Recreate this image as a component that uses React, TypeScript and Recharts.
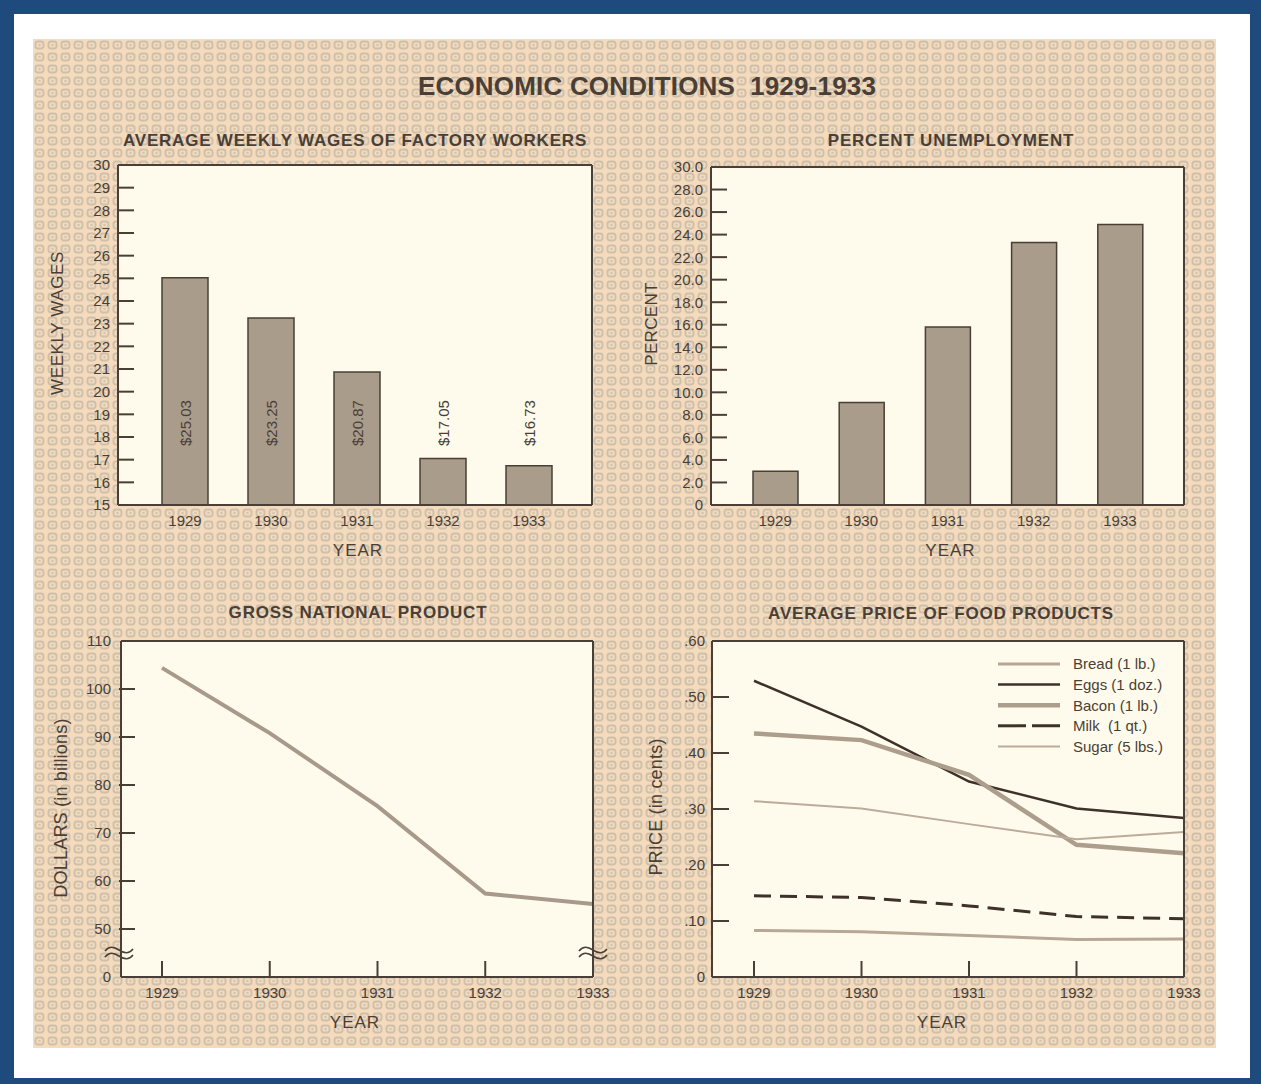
import React from 'react';
import {
  BarChart,
  Bar,
  LineChart,
  Line,
  XAxis,
  YAxis,
  CartesianGrid,
  LabelList,
  Label,
  Legend,
} from 'recharts';

// values
const years = ['1929', '1930', '1931', '1932', '1933'];

const weeklyWages = [25.03, 23.25, 20.87, 17.05, 16.73];
const wageLabels = ['$25.03', '$23.25', '$20.87', '$17.05', '$16.73'];
const wageTicks = [15, 16, 17, 18, 19, 20, 21, 22, 23, 24, 25, 26, 27, 28, 29, 30];

const unemploymentPct = [3.0, 9.1, 15.8, 23.3, 24.9];
const unemploymentTicks = [0, 2, 4, 6, 8, 10, 12, 14, 16, 18, 20, 22, 24, 26, 28, 30];

const gnpBillions = [104.4, 90.8, 75.6, 57.4, 55.2];
// 40 is printed as "0" (broken axis), 45 carries the break mark
const gnpTicks = [40, 45, 50, 60, 70, 80, 90, 100, 110];

const breadPrice = [0.083, 0.081, 0.074, 0.067, 0.068];
const eggsPrice = [0.529, 0.447, 0.349, 0.301, 0.284];
const baconPrice = [0.435, 0.423, 0.361, 0.236, 0.221];
const milkPrice = [0.145, 0.142, 0.127, 0.108, 0.104];
const sugarPrice = [0.314, 0.301, 0.273, 0.246, 0.259];
const foodTicks = [0, 0.1, 0.2, 0.3, 0.4, 0.5, 0.6];

const BLUE = '#1f4a7e';
const INK = '#4a3f36';
const FONT = '"Liberation Sans", Arial, Helvetica, sans-serif';
const PLOT_BG = '#fffbec';
const BAR_FILL = '#aa9c8b';
const TICK_GAP = 8;
const TICK_LEN = 16;
const X_GAP = 10;

const boxLine = { stroke: INK, strokeWidth: 2 };

const textureSvg =
  "<svg xmlns='http://www.w3.org/2000/svg' width='13' height='12'>" +
  "<rect width='13' height='12' fill='#f5dabb'/>" +
  "<rect x='2.5' y='2.5' width='8' height='7' rx='2.5' fill='none' stroke='#cdc0ad' stroke-width='1.9'/>" +
  "<circle cx='6.5' cy='6' r='1.3' fill='#d3c6b3'/></svg>";
const TEXTURE = `url("data:image/svg+xml;utf8,${encodeURIComponent(textureSvg)}")`;

const wageData = years.map((year, i) => ({ year, wage: weeklyWages[i], label: wageLabels[i] }));
const unemploymentData = years.map((year, i) => ({ year, pct: unemploymentPct[i] }));
const gnpData = years.map((year, i) => ({ year, gnp: gnpBillions[i] }));
const foodData = years.map((year, i) => ({
  year,
  bread: breadPrice[i],
  eggs: eggsPrice[i],
  bacon: baconPrice[i],
  milk: milkPrice[i],
  sugar: sugarPrice[i],
}));

const foodSeries = [
  { key: 'bread', name: 'Bread (1 lb.)', color: '#b7a797', width: 3, dash: undefined, legendDash: undefined },
  { key: 'eggs', name: 'Eggs (1 doz.)', color: '#3d3129', width: 2.5, dash: undefined, legendDash: undefined },
  { key: 'bacon', name: 'Bacon (1 lb.)', color: '#ad9d8c', width: 4.5, dash: undefined, legendDash: undefined },
  { key: 'milk', name: 'Milk  (1 qt.)', color: '#3d3129', width: 3, dash: '17 9', legendDash: '28 6' },
  { key: 'sugar', name: 'Sugar (5 lbs.)', color: '#bcab9b', width: 2, dash: undefined, legendDash: undefined },
];

function Squiggle({ cx, cy }: { cx: number; cy: number }) {
  return (
    <g fill="none" stroke={INK} strokeWidth={1.6}>
      <path d={`M${cx - 14},${cy - 2} c4,-5 8,-5 14,-1 s10,4 14,-1`} />
      <path d={`M${cx - 14},${cy + 4} c4,-5 8,-5 14,-1 s10,4 14,-1`} />
    </g>
  );
}

// inward tick line, label outside on the left
const yTick = (format: (v: number) => string, noLine: number[], breakAt?: number) => (props: any) => {
  const { x, y, payload } = props;
  const edge = x + TICK_GAP;
  const v = payload.value;
  if (breakAt !== undefined && v === breakAt) return <Squiggle cx={edge} cy={y} />;
  return (
    <g>
      {!noLine.includes(v) && (
        <line x1={edge} x2={edge + TICK_LEN} y1={y} y2={y} stroke={INK} strokeWidth={2} />
      )}
      <text x={x} y={y} dy="0.36em" textAnchor="end" fill={INK} fontSize={15} fontFamily={FONT}>
        {format(v)}
      </text>
    </g>
  );
};

const xTick = (withLine: boolean) => (props: any) => {
  const { x, y, payload } = props;
  const base = y - X_GAP;
  return (
    <g>
      {withLine && <line x1={x} x2={x} y1={base} y2={base - TICK_LEN} stroke={INK} strokeWidth={2} />}
      <text x={x} y={y} dy="0.71em" textAnchor="middle" fill={INK} fontSize={15} fontFamily={FONT}>
        {payload.value}
      </text>
    </g>
  );
};

const yTitle = (text: string, dx: number, dy: number, size: number, spacing: number) => (props: any) => {
  const vb = props.viewBox || {};
  const cx = vb.x + vb.width - dx;
  const cy = vb.y + vb.height / 2 + dy;
  return (
    <text
      transform={`translate(${cx},${cy}) rotate(-90)`}
      textAnchor="middle"
      dominantBaseline="central"
      fill={INK}
      fontSize={size}
      letterSpacing={spacing}
      fontFamily={FONT}
    >
      {text}
    </text>
  );
};

const yearTitle = (dx: number) => (props: any) => {
  const vb = props.viewBox || {};
  return (
    <text
      x={vb.x + vb.width / 2 + dx}
      y={vb.y + 45}
      textAnchor="middle"
      dominantBaseline="central"
      fill={INK}
      fontSize={17}
      letterSpacing={1}
      fontFamily={FONT}
    >
      YEAR
    </text>
  );
};

const wageLabel = (p: any) => {
  const vb = p.viewBox || p;
  const cx = vb.x + vb.width / 2;
  const bottom = vb.y + vb.height;
  return (
    <text
      transform={`translate(${cx},${bottom - 59}) rotate(-90)`}
      dominantBaseline="central"
      fill={INK}
      fontSize={15}
      fontFamily={FONT}
    >
      {p.value}
    </text>
  );
};

function PanelTitle({ text, cx, cy, size = 17, spacing = 0.8 }: any) {
  return (
    <div
      style={{
        position: 'absolute',
        left: cx - 300,
        width: 600,
        top: cy - size * 0.49,
        fontSize: size,
        lineHeight: `${size}px`,
        letterSpacing: spacing,
        fontWeight: 'bold',
        textAlign: 'center',
        color: INK,
        fontFamily: FONT,
        whiteSpace: 'pre',
      }}
    >
      {text}
    </div>
  );
}

// top and right edges of the plot frame: axes 1px thick (a 0-size axis is not drawn)
const topFrame = (
  <XAxis xAxisId="top" orientation="top" dataKey="year" height={1} axisLine={boxLine} tick={false} tickLine={false} />
);
const rightFrame = (domain: [number, number]) => (
  <YAxis
    yAxisId="right"
    orientation="right"
    type="number"
    width={1}
    domain={domain}
    allowDataOverflow
    axisLine={boxLine}
    tick={false}
    tickLine={false}
  />
);

function WagesChart() {
  return (
    <div style={{ position: 'absolute', left: 40, top: 150 }}>
      <BarChart width={570} height={420} data={wageData} margin={{ top: 14, right: 17, bottom: 35, left: 18 }}>
        <CartesianGrid fill={PLOT_BG} horizontal={false} vertical={false} />
        <XAxis
          dataKey="year"
          height={30}
          padding={{ left: 24, right: 20 }}
          axisLine={boxLine}
          tickLine={false}
          tickSize={0}
          tickMargin={X_GAP}
          tick={xTick(false)}
        >
          <Label content={yearTitle(3)} />
        </XAxis>
        {topFrame}
        <YAxis
          type="number"
          width={60}
          domain={[15, 30]}
          ticks={wageTicks}
          interval={0}
          axisLine={boxLine}
          tickLine={false}
          tickSize={0}
          tickMargin={TICK_GAP}
          tick={yTick((v) => String(v), [15, 30])}
        >
          <Label content={yTitle('WEEKLY WAGES', 61, -12, 17, 0.6)} />
        </YAxis>
        {rightFrame([15, 30])}
        <Bar dataKey="wage" fill={BAR_FILL} stroke={INK} strokeWidth={1.5} barSize={46} isAnimationActive={false}>
          <LabelList dataKey="label" content={wageLabel} />
        </Bar>
      </BarChart>
    </div>
  );
}

function UnemploymentChart() {
  return (
    <div style={{ position: 'absolute', left: 630, top: 150 }}>
      <BarChart width={575} height={420} data={unemploymentData} margin={{ top: 16, right: 20, bottom: 35, left: 21 }}>
        <CartesianGrid fill={PLOT_BG} horizontal={false} vertical={false} />
        <XAxis
          dataKey="year"
          height={30}
          padding={{ left: 21, right: 21 }}
          axisLine={boxLine}
          tickLine={false}
          tickSize={0}
          tickMargin={X_GAP}
          tick={xTick(false)}
        >
          <Label content={yearTitle(3)} />
        </XAxis>
        {topFrame}
        <YAxis
          type="number"
          width={60}
          domain={[0, 30]}
          ticks={unemploymentTicks}
          interval={0}
          axisLine={boxLine}
          tickLine={false}
          tickSize={0}
          tickMargin={TICK_GAP}
          tick={yTick((v) => (v === 0 ? '0' : v.toFixed(1)), [0, 30])}
        >
          <Label content={yTitle('PERCENT', 60, -12, 17, 0.3)} />
        </YAxis>
        {rightFrame([0, 30])}
        <Bar dataKey="pct" fill={BAR_FILL} stroke={INK} strokeWidth={1.5} barSize={45} isAnimationActive={false} />
      </BarChart>
    </div>
  );
}

function GnpChart() {
  return (
    <div style={{ position: 'absolute', left: 40, top: 625 }}>
      <LineChart width={570} height={420} data={gnpData} margin={{ top: 15, right: 16, bottom: 38, left: 21 }}>
        <CartesianGrid fill={PLOT_BG} horizontal={false} vertical={false} />
        <XAxis
          dataKey="year"
          height={30}
          padding={{ left: 41, right: 0 }}
          axisLine={boxLine}
          tickLine={false}
          tickSize={0}
          tickMargin={X_GAP}
          tick={xTick(true)}
        >
          <Label content={yearTitle(-2)} />
        </XAxis>
        {topFrame}
        <YAxis
          type="number"
          width={60}
          domain={[40, 110]}
          ticks={gnpTicks}
          interval={0}
          axisLine={boxLine}
          tickLine={false}
          tickSize={0}
          tickMargin={TICK_GAP + 2}
          tick={yTick((v) => (v === 40 ? '0' : String(v)), [40, 110], 45)}
        >
          <Label content={yTitle('DOLLARS (in billions)', 60, -1, 18, 0.2)} />
        </YAxis>
        <YAxis
          yAxisId="right"
          orientation="right"
          type="number"
          width={1}
          domain={[40, 110]}
          ticks={[45]}
          allowDataOverflow
          axisLine={boxLine}
          tickLine={false}
          tickSize={0}
          tickMargin={0}
          tick={(p: any) => <Squiggle cx={p.x} cy={p.y} />}
        />
        <Line
          type="linear"
          dataKey="gnp"
          stroke="#a8998a"
          strokeWidth={4}
          dot={false}
          activeDot={false}
          isAnimationActive={false}
        />
      </LineChart>
    </div>
  );
}

function FoodLegend() {
  return (
    <svg width={200} height={104} style={{ display: 'block' }}>
      {foodSeries.map((s, i) => {
        const cy = 10 + i * 20.6;
        return (
          <g key={s.key}>
            <line x1={0} x2={62} y1={cy} y2={cy} stroke={s.color} strokeWidth={s.width} strokeDasharray={s.legendDash} />
            <text x={75} y={cy} dy="0.36em" fontSize={15} fill={INK} fontFamily={FONT} style={{ whiteSpace: 'pre' }}>
              {s.name}
            </text>
          </g>
        );
      })}
    </svg>
  );
}

function FoodChart() {
  return (
    <div style={{ position: 'absolute', left: 630, top: 625 }}>
      <LineChart width={575} height={420} data={foodData} margin={{ top: 15, right: 20, bottom: 38, left: 22 }}>
        <CartesianGrid fill={PLOT_BG} horizontal={false} vertical={false} />
        <XAxis
          dataKey="year"
          height={30}
          padding={{ left: 42, right: 0 }}
          axisLine={boxLine}
          tickLine={false}
          tickSize={0}
          tickMargin={X_GAP}
          tick={xTick(true)}
        >
          <Label content={yearTitle(-6)} />
        </XAxis>
        {topFrame}
        <YAxis
          type="number"
          width={60}
          domain={[0, 0.6]}
          ticks={foodTicks}
          interval={0}
          axisLine={boxLine}
          tickLine={false}
          tickSize={0}
          tickMargin={TICK_GAP - 1}
          tick={yTick((v) => (v === 0 ? '0' : `.${Math.round(v * 100)}`), [0, 0.6])}
        >
          <Label content={yTitle('PRICE (in cents)', 56, -2, 18, 0.2)} />
        </YAxis>
        {rightFrame([0, 0.6])}
        <Legend
          layout="vertical"
          align="center"
          verticalAlign="middle"
          wrapperStyle={{ left: 368, top: 29, width: 200, height: 104 }}
          content={() => <FoodLegend />}
        />
        {foodSeries.map((s) => (
          <Line
            key={s.key}
            type="linear"
            dataKey={s.key}
            name={s.name}
            stroke={s.color}
            strokeWidth={s.width}
            strokeDasharray={s.dash}
            dot={false}
            activeDot={false}
            isAnimationActive={false}
          />
        ))}
      </LineChart>
    </div>
  );
}

export default function App() {
  return (
    <div style={{ position: 'absolute', left: 0, top: 0, width: 1261, height: 1084, background: BLUE, fontFamily: FONT }}>
      <div style={{ position: 'absolute', left: 14, top: 14, width: 1236, height: 1064, background: '#ffffff' }} />
      <div
        style={{
          position: 'absolute',
          left: 33,
          top: 39,
          width: 1183,
          height: 1009,
          backgroundColor: '#f4d9bb',
          backgroundImage: TEXTURE,
        }}
      />
      <PanelTitle text="ECONOMIC CONDITIONS  1929-1933" cx={647} cy={86} size={26} spacing={0.2} />
      <PanelTitle text="AVERAGE WEEKLY WAGES OF FACTORY WORKERS" cx={355} cy={140} />
      <PanelTitle text="PERCENT UNEMPLOYMENT" cx={951} cy={140} />
      <PanelTitle text="GROSS NATIONAL PRODUCT" cx={358} cy={612} />
      <PanelTitle text="AVERAGE PRICE OF FOOD PRODUCTS" cx={941} cy={613} />
      <WagesChart />
      <UnemploymentChart />
      <GnpChart />
      <FoodChart />
    </div>
  );
}
